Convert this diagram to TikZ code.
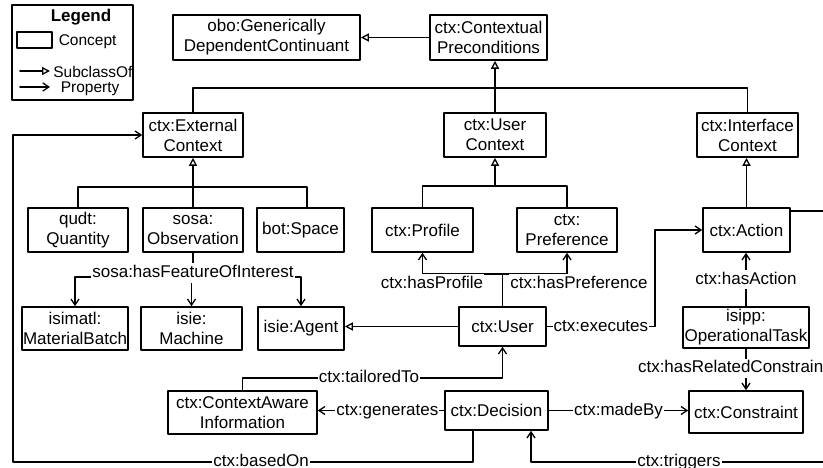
\documentclass[tikz,border=0pt]{standalone}
\usepackage{fontspec}
\setmainfont{Liberation Sans}
\usetikzlibrary{arrows.meta}

\begin{document}
\begin{tikzpicture}[
        x=1pt, y=-1pt,
        line cap=round, line join=round, line width=1.6pt,
        every node/.style={font=\fontsize{17}{20}\selectfont},
        concept/.style 2 args={draw, align=center, inner sep=0pt,
            minimum width=#1, minimum height=#2},
        sub/.style={-{Triangle[open, length=8pt, width=8pt, line width=1.3pt]}},
        prop/.style={-{Straight Barb[length=6pt, width=8pt, line width=1.3pt]}},
        lbl/.style={fill=white, inner xsep=1pt, inner ysep=1.5pt,
            text height=12.5pt, text depth=3.5pt},
        lgtext/.style={anchor=west, inner sep=0pt, font=\fontsize{15.5}{18}\selectfont}
    ]
    \useasboundingbox (0,0) rectangle (823,468);
    \clip (0,0) rectangle (823,468);

    % legend
    \node[draw, minimum width=121pt, minimum height=95pt, inner sep=0pt] (legend) at (72.5,52.5) {};
    \node[font=\fontsize{17}{20}\selectfont\bfseries] (lgtitle) at (81,17) {Legend};
    \node[draw, minimum width=35pt, minimum height=16pt, inner sep=0pt] (lgbox) at (34.5,40) {};
    \node[lgtext] (lgconcept) at (58,42) {Concept};
    \coordinate (lgsa) at (20,71);
    \coordinate (lgsb) at (50,71);
    \draw[sub] (lgsa) -- (lgsb);
    \node[lgtext] (lgsubclass) at (52.5,72) {SubclassOf};
    \coordinate (lgpa) at (20,87);
    \coordinate (lgpb) at (50,87);
    \draw[prop] (lgpa) -- (lgpb);
    \node[lgtext] (lgproperty) at (60,88.5) {Property};

    % concepts
    \node[concept={187pt}{45pt}] (gdc) at (266.5,37.5) {obo:Generically\\DependentContinuant};
    \node[concept={117pt}{45pt}] (cpre) at (488.5,37.5) {ctx:Contextual\\Preconditions};
    \node[concept={100pt}{44pt}] (econ) at (193,135) {ctx:External\\Context};
    \node[concept={102pt}{44pt}] (ucon) at (495,135) {ctx:User\\Context};
    \node[concept={101pt}{44pt}] (icon) at (747.5,135) {ctx:Interface\\Context};
    \node[concept={100pt}{44pt}] (qudt) at (78,230) {qudt:\\Quantity};
    \node[concept={100pt}{44pt}] (obs) at (193,230) {sosa:\\Observation};
    \node[concept={87pt}{44pt}] (space) at (300.5,230) {bot:Space};
    \node[concept={101pt}{44pt}] (profile) at (422.5,230) {ctx:Profile};
    \node[concept={100pt}{44pt}] (pref) at (567,230) {ctx:\\Preference};
    \node[concept={87pt}{44pt}] (action) at (746.5,230) {ctx:Action};
    \node[concept={106pt}{43pt}] (batch) at (75,328.5) {isimatl:\\MaterialBatch};
    \node[concept={101pt}{43pt}] (machine) at (191.5,328.5) {isie:\\Machine};
    \node[concept={86pt}{43pt}] (agent) at (301,328.5) {isie:Agent};
    \node[concept={87pt}{39pt}] (user) at (502.5,326.5) {ctx:User};
    \node[concept={126pt}{41pt}] (task) at (746,327.5) {isipp:\\OperationalTask};
    \node[concept={149pt}{43pt}] (cai) at (242.5,412.5) {ctx:ContextAware\\Information};
    \node[concept={103pt}{39pt}] (decision) at (496.5,410.5) {ctx:Decision};
    \node[concept={114pt}{42pt}] (constraint) at (746,412) {ctx:Constraint};

    % subclass links
    \draw[sub] (cpre) -- (gdc);
    \coordinate (topbar) at (495,88);
    \draw (econ.north) |- (topbar) -| (icon.north);
    \draw[sub] (ucon.north) -- (cpre.south -| ucon.north);
    \coordinate (extbar) at (193,187);
    \draw[sub] (obs.north) -- (econ.south);
    \draw (qudt.north) |- (extbar) -| ([xshift=6.5pt]space.north);
    \coordinate (userbar) at (495,186);
    \draw[sub] (userbar) -- (ucon.south);
    \draw (profile.north) |- (userbar) -| (pref.north);
    \draw[sub] (action.north) -- (icon.south -| action.north);
    \draw[sub] (user.west) -- (user.west -| agent.east);

    % properties
    \coordinate (foi) at (193,277);
    \draw (obs.south) -- (foi);
    \draw[prop] (foi) -| (batch.north);
    \draw[prop] (foi) -| (machine.north);
    \draw[prop] (foi) -| (agent.north);
    \node[lbl] (lblfoi) at (193,273) {sosa:hasFeatureOfInterest};

    \coordinate (userup) at (502.5,274);
    \draw (user.north) -- (userup);
    \draw[prop] (userup) -| (profile.south);
    \draw[prop] (userup) -| (pref.south);
    \node[lbl] (lblprofile) at (432,283.5) {ctx:hasProfile};
    \node[lbl] (lblpref) at (579,283.5) {ctx:hasPreference};

    \draw[prop] (user.east) -- node[lbl] (lblexec) {ctx:executes} (655,326.5) |- (action.west);
    \draw[prop] (task.north) -- node[lbl] (lblaction) {ctx:hasAction} (task.north |- action.south);
    \draw[prop] (task.south) -- (constraint.north);
    \node[lbl] (lblconstr) at (733,368) {ctx:hasRelatedConstraint};
    \draw[prop] (decision.east) -- node[lbl] (lblmade) {ctx:madeBy} (constraint.west |- decision.east);
    \draw[prop] (decision.west) -- node[lbl, pos=0.45] (lblgen) {ctx:generates} (decision.west -| cai.east);

    \coordinate (tl) at (369,378);
    \draw[prop] (cai.north) |- (tl) -| (user.south);
    \node[lbl] (lbltailored) at (tl) {ctx:tailoredTo};

    \coordinate (bo) at (261,462);
    \draw[prop] (decision.south -| 473,0) |- (bo) -| (econ.west -| 13,0) -- (econ.west);
    \node[lbl] (lblbased) at (bo) {ctx:basedOn};

    \coordinate (offtrg) at (850,462);
    \coordinate (trg) at (679,462);
    \draw[prop] (offtrg) -- (trg) -| (decision.south -| 531,0);
    \node[lbl] (lbltrig) at (trg) {ctx:triggers};

    \coordinate (offact) at (850,211);
    \draw (action.east |- offact) -- (offact);
\end{tikzpicture}
\end{document}
